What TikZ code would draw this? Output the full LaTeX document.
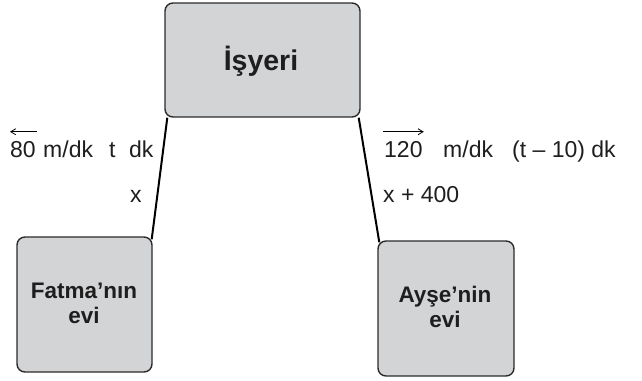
\documentclass[tikz,border=0pt]{standalone}
\usepackage{fontspec}
\setmainfont{Liberation Sans}
\usetikzlibrary{calc,arrows.meta}
\definecolor{boxgray}{HTML}{D3D4D6}
\definecolor{boxline}{HTML}{2B2B2B}
\definecolor{txt}{HTML}{1E1E1E}
\begin{document}
\begin{tikzpicture}[x=1pt,y=-1pt,
  place/.style={draw=boxline,line width=1.4pt,fill=boxgray,rounded corners=8pt,inner sep=0pt},
  lbl/.style={anchor=base west,inner sep=0pt,text=txt,font=\fontsize{23}{27}\selectfont},
  boxtxt/.style={font=\bfseries\fontsize{22.5}{25}\selectfont,align=center,inner sep=0pt,text=txt},
  road/.style={line width=2pt,black},
  dirarrow/.style={line width=0.8pt,-{Straight Barb[length=5pt,width=6pt]}}]
\useasboundingbox (0,0) rectangle (642,380);
% boxes
\node[place,minimum width=195pt,minimum height=114pt] (isyeri) at (262.5,60) {};
\node[place,minimum width=135pt,minimum height=135pt] (fatma) at (84.5,304.5) {};
\node[place,minimum width=136pt,minimum height=135pt] (ayse) at (446,308.5) {};
% box texts
\node[inner sep=0pt,anchor=base,text=txt,font=\bfseries\fontsize{28.5}{32}\selectfont] (tisyeri) at (261,70) {İşyeri};
\node[boxtxt] (tfatma) at (84,303) {Fatma’nın\\evi};
\node[boxtxt] (tayse) at (445,307) {Ayşe’nin\\evi};
% roads
\coordinate (lt) at ($(isyeri.south west)+(3,0)$);
\coordinate (lb) at ($(fatma.north east)+(-1,3)$);
\coordinate (rt) at ($(isyeri.south east)+(-2,0)$);
\coordinate (rb) at ($(ayse.north west)+(2,2)$);
\draw[road] (lt) -- (lb);
\draw[road] (rt) -- (rb);
% left labels
\node[lbl] (v80) at (10,157) {80};
\node[lbl] (m1) at (43,157) {m/dk};
\node[lbl] (t1) at (109,157) {t};
\node[lbl] (dk1) at (129,157) {dk};
\node[lbl] (x1) at (130,202) {x};
\coordinate (a1s) at ($(v80.north east)+(1,-9)$);
\coordinate (a1e) at ($(v80.north west)+(0,-9)$);
\draw[dirarrow] (a1s) -- (a1e);
% right labels
\node[lbl] (v120) at (384,157) {120};
\node[lbl] (m2) at (443,157) {m/dk};
\node[lbl] (t2) at (512,157) {(t – 10) dk};
\node[lbl] (x2) at (383,202) {x + 400};
\coordinate (a2s) at ($(v120.north west)+(-1,-9)$);
\coordinate (a2e) at ($(v120.north east)+(1,-9)$);
\draw[dirarrow] (a2s) -- (a2e);
\end{tikzpicture}
\end{document}
